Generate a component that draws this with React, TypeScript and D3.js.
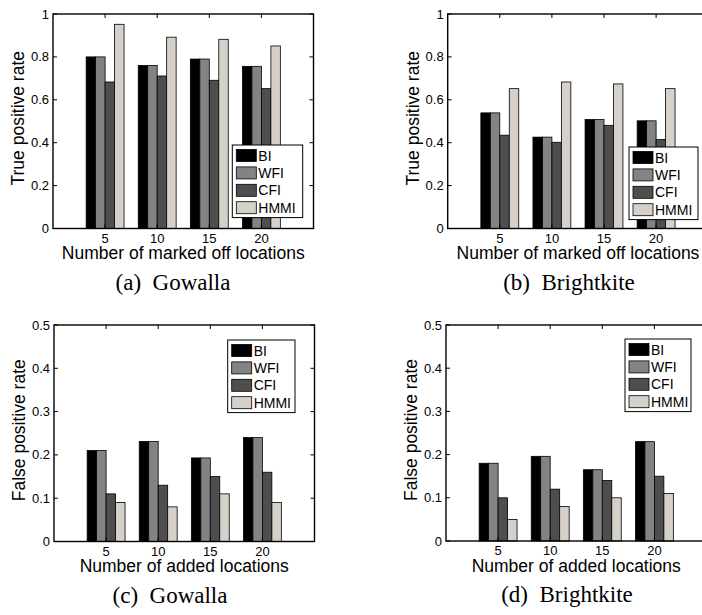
import React from 'react'
import * as d3 from 'd3'

const categories = ['5', '10', '15', '20']
const seriesNames = ['BI', 'WFI', 'CFI', 'HMMI']
const seriesColors = ['#000000', '#838383', '#4e4e4e', '#d5d1ca']

// rows: BI, WFI, CFI, HMMI
const tprGowalla = [
  [0.80, 0.76, 0.79, 0.756],
  [0.80, 0.76, 0.79, 0.756],
  [0.683, 0.711, 0.691, 0.652],
  [0.952, 0.892, 0.882, 0.851],
]
const tprBrightkite = [
  [0.539, 0.426, 0.508, 0.502],
  [0.539, 0.426, 0.508, 0.502],
  [0.435, 0.402, 0.481, 0.415],
  [0.652, 0.683, 0.674, 0.652],
]
const fprGowalla = [
  [0.21, 0.231, 0.193, 0.24],
  [0.21, 0.231, 0.193, 0.24],
  [0.11, 0.13, 0.15, 0.16],
  [0.09, 0.08, 0.11, 0.09],
]
const fprBrightkite = [
  [0.18, 0.196, 0.165, 0.23],
  [0.18, 0.196, 0.165, 0.23],
  [0.10, 0.12, 0.14, 0.15],
  [0.05, 0.08, 0.10, 0.11],
]

const tprTicks = [0, 0.2, 0.4, 0.6, 0.8, 1]
const fprTicks = [0, 0.1, 0.2, 0.3, 0.4, 0.5]

const sans = 'Liberation Sans, Arial, Helvetica, sans-serif'
const serif = 'Liberation Serif, Times New Roman, serif'

type PanelProps = {
  data: number[][]
  ticks: number[]
  yMax: number
  left: number
  top: number
  bottom: number
  yLabel: string
  xLabel: string
  caption: string
  captionX: number
  legend: { x: number; y: number; w: number }
}

function Panel(p: PanelProps) {
  const unit = 52.1
  const right = p.left + unit * 5
  const x = d3.scaleLinear().domain([0, 5]).range([p.left, right])
  const y = d3.scaleLinear().domain([0, p.yMax]).range([p.bottom, p.top])
  const groupW = Math.min(0.8, 4 / 5.5)
  const barW = groupW / 4
  const tl = 4
  const fmt = (v: number) => (v === 0 ? '0' : v === 1 ? '1' : String(v))
  const lg = p.legend
  const rowH = 17.4
  return (
    <g>
      {p.data.map((vals, s) =>
        vals.map((v, i) => {
          const x0 = x(i + 1 - groupW / 2 + s * barW)
          const x1 = x(i + 1 - groupW / 2 + (s + 1) * barW)
          return (
            <rect
              key={s + '-' + i}
              x={x0}
              y={y(v)}
              width={x1 - x0}
              height={y(0) - y(v)}
              fill={seriesColors[s]}
              stroke="#000"
              strokeWidth={0.8}
            />
          )
        })
      )}
      {/* box */}
      <rect x={p.left} y={p.top} width={right - p.left} height={p.bottom - p.top} fill="none" stroke="#000" strokeWidth={1.4} />
      {p.ticks.map((t) => (
        <g key={'y' + t}>
          <line x1={p.left} x2={p.left + tl} y1={y(t)} y2={y(t)} stroke="#000" strokeWidth={1} />
          <line x1={right} x2={right - tl} y1={y(t)} y2={y(t)} stroke="#000" strokeWidth={1} />
          <text x={p.left - 4} y={y(t) + 4.5} textAnchor="end" fontSize={13} fontFamily={sans}>
            {fmt(t)}
          </text>
        </g>
      ))}
      {categories.map((c, i) => (
        <g key={'x' + c}>
          <line x1={x(i + 1)} x2={x(i + 1)} y1={p.top} y2={p.top + tl} stroke="#000" strokeWidth={1} />
          <line x1={x(i + 1)} x2={x(i + 1)} y1={p.bottom} y2={p.bottom - tl} stroke="#000" strokeWidth={1} />
          <text x={x(i + 1)} y={p.bottom + 14} textAnchor="middle" fontSize={13} fontFamily={sans}>
            {c}
          </text>
        </g>
      ))}
      <text x={(p.left + right) / 2} y={p.bottom + 30.5} textAnchor="middle" fontSize={17.5} fontFamily={sans}>
        {p.xLabel}
      </text>
      <text
        transform={`translate(${p.left - 29},${(p.top + p.bottom) / 2 - 3}) rotate(-90)`}
        textAnchor="middle"
        fontSize={17.5}
        fontFamily={sans}
      >
        {p.yLabel}
      </text>
      <text x={p.captionX} y={p.bottom + 61} textAnchor="middle" fontSize={23} fontFamily={serif} style={{ whiteSpace: 'pre' }}>
        {p.caption}
      </text>
      {/* legend */}
      <rect x={lg.x} y={lg.y} width={lg.w} height={rowH * 4 + 3} fill="#fff" stroke="#000" strokeWidth={1} />
      {seriesNames.map((n, s) => {
        const cy = lg.y + 10.5 + s * rowH
        return (
          <g key={n}>
            <rect x={lg.x + 4} y={cy - 6} width={20} height={12} fill={seriesColors[s]} stroke="#000" strokeWidth={0.8} />
            <text x={lg.x + 26} y={cy + 5} fontSize={14} fontFamily={sans}>
              {n}
            </text>
          </g>
        )
      })}
    </g>
  )
}

export default function App() {
  return (
    <svg width={702} height={615} style={{ position: 'absolute', left: 0, top: 0, background: '#fff' }}>
      <rect width={702} height={615} fill="#fff" />
      <Panel
        data={tprGowalla}
        ticks={tprTicks}
        yMax={1}
        left={53}
        top={14}
        bottom={228.5}
        yLabel="True positive rate"
        xLabel="Number of marked off locations"
        caption="(a)  Gowalla"
        captionX={173}
        legend={{ x: 232.3, y: 145, w: 70.4 }}
      />
      <Panel
        data={tprBrightkite}
        ticks={tprTicks}
        yMax={1}
        left={447.7}
        top={14}
        bottom={228.5}
        yLabel="True positive rate"
        xLabel="Number of marked off locations"
        caption="(b)  Brightkite"
        captionX={569}
        legend={{ x: 629, y: 147, w: 69 }}
      />
      <Panel
        data={fprGowalla}
        ticks={fprTicks}
        yMax={0.5}
        left={54}
        top={325}
        bottom={541.5}
        yLabel="False positive rate"
        xLabel="Number of added locations"
        caption="(c)  Gowalla"
        captionX={170}
        legend={{ x: 227.7, y: 340, w: 67.3 }}
      />
      <Panel
        data={fprBrightkite}
        ticks={fprTicks}
        yMax={0.5}
        left={446}
        top={325}
        bottom={541}
        yLabel="False positive rate"
        xLabel="Number of added locations"
        caption="(d)  Brightkite"
        captionX={567}
        legend={{ x: 625, y: 339, w: 66 }}
      />
    </svg>
  )
}
